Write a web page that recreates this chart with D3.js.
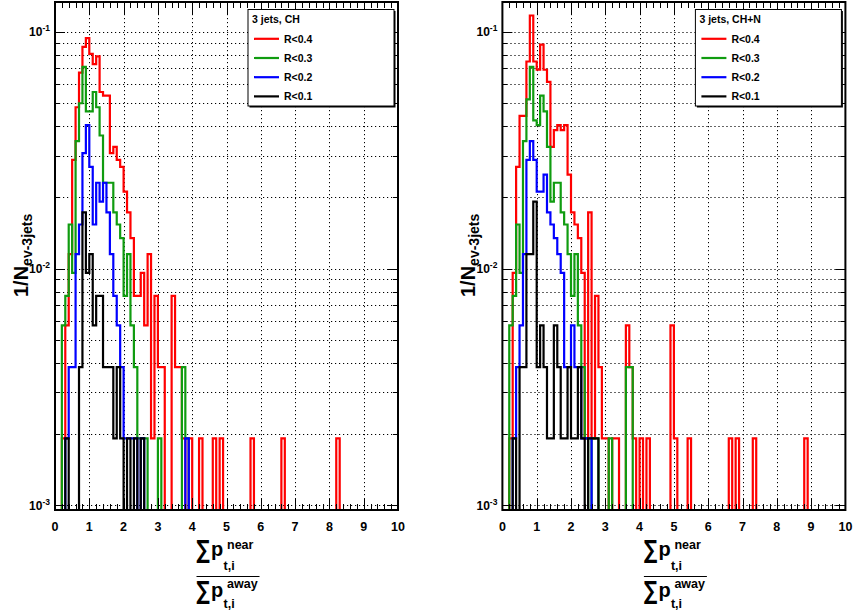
<!DOCTYPE html>
<html>
<head>
<meta charset="UTF-8">
<title>near/away ratio, 3 jets</title>
<script src="https://d3js.org/d3.v7.min.js"></script>
<style>
  body { margin: 0; background: #fff; }
  text { font-family: "Liberation Sans", Arial, sans-serif; font-weight: bold; fill: #000; }
</style>
</head>
<body>
<svg width="853" height="613"></svg>
<script>
// histogram binning (100 bins of 0.1 from 0 to 10)
var binWidth = 0.1;
var nBins = 100;
// normalisation: y = entries / N_ev-3jets
var nEvents = 521;

var seriesNames = ["R<0.4", "R<0.3", "R<0.2", "R<0.1"];
var seriesColors = ["#ff0000", "#109c10", "#0000ff", "#000000"];
var panelTitles = ["3 jets, CH", "3 jets, CH+N"];

// entries per bin (index = bin number)
var chRed = [0,0,1,3,6,15,25,35,45,49,
  42,38,41,29,28,28,16,17,15,14,
  11,9,7,4,4,5,3,6,1,4,
  2,2,0,0,4,2,2,1,0,1,
  0,0,1,0,0,0,1,0,1,0,
  0,0,0,0,0,0,0,1,0,0,
  0,0,0,0,0,0,1,0,0,0,
  0,0,0,0,0,0,0,0,0,0,
  0,0,1];
var chGreen = [0,0,3,4,8,5,18,26,37,24,
  24,29,25,19,12,12,12,9,8,7,
  4,6,3,2,1,1,1,0,0,0,
  1,0,0,0,0,0,0,2,1];
var chBlue = [0,0,0,1,2,2,6,8,16,21,
  14,8,12,10,12,9,6,4,3,2,
  1,1,1,1,0,1,0,0,0,0,
  0,0,0,0,0,0,0,0,1];
var chBlack = [0,0,0,1,0,0,0,2,9,5,
  6,3,4,4,2,2,2,1,2,1,
  0,1,0,1,0,1];

var chnRed = [0,0,1,5,14,23,23,39,61,39,
  36,46,36,32,17,20,21,20,21,13,
  9,8,7,5,1,9,1,4,2,1,
  1,0,1,1,0,0,3,2,1,0,
  1,0,1,0,0,0,0,0,0,3,
  1,0,0,0,1,0,0,0,0,0,
  0,0,0,0,0,0,1,0,1,0,
  0,0,0,1,0,0,0,0,0,0,
  0,0,0,0,0,0,0,0,1];
var chnGreen = [0,0,3,4,8,5,18,27,37,22,
  21,28,24,17,10,12,12,9,8,6,
  4,6,3,2,1,0,1,1,0,0,
  0,1,0,0,0,0,2,2];
var chnBlue = [0,0,0,1,2,3,6,15,18,15,
  11,11,13,9,8,7,6,5,2,2,
  3,2,2,1,1,1];
var chnBlack = [0,0,0,1,0,2,2,6,6,10,
  2,3,2,1,1,3,2,1,1,2,
  1,1,2,1,0,1,1,1];

var xTicks = [0,1,2,3,4,5,6,7,8,9,10];
var yDecades = [-3, -2, -1];

var svg = d3.select("svg");
var yTop = 2, yBottom = 510;
var yMin = 9.57e-4, yMax = 0.1335;

function drawPanel(idx, frameLeft, series) {
  var frameRight = frameLeft + 343;
  var x = d3.scaleLinear().domain([0, 10]).range([frameLeft, frameRight]);
  var y = d3.scaleLog().domain([yMin, yMax]).range([yBottom, yTop]);
  var g = svg.append("g");

  // log tick values 1..9 x 10^k
  var yTickVals = [];
  yDecades.forEach(function (k) {
    for (var m = 1; m <= 9; m++) {
      var v = m * Math.pow(10, k);
      if (v >= yMin && v <= yMax) yTickVals.push(v);
    }
  });

  // grid
  g.selectAll(".vgrid").data(xTicks.slice(1, -1)).enter().append("line")
    .attr("x1", d => Math.round(x(d)) + 0.5).attr("x2", d => Math.round(x(d)) + 0.5)
    .attr("y1", yTop).attr("y2", yBottom)
    .attr("stroke", "#000").attr("stroke-width", 1)
    .attr("stroke-dasharray", "1.2,2.8");
  g.selectAll(".hgrid").data(yTickVals).enter().append("line")
    .attr("x1", frameLeft).attr("x2", frameRight)
    .attr("y1", d => Math.round(y(d)) + 0.5).attr("y2", d => Math.round(y(d)) + 0.5)
    .attr("stroke", "#000").attr("stroke-width", 1)
    .attr("stroke-dasharray", "1.2,2.8");

  // histograms
  var clipId = "clip" + idx;
  svg.append("clipPath").attr("id", clipId).append("rect")
    .attr("x", frameLeft).attr("y", yTop)
    .attr("width", frameRight - frameLeft).attr("height", yBottom - yTop);

  var line = d3.line()
    .x(d => x(d.x))
    .y(d => d.v > 0 ? y(d.v / nEvents) : yBottom + 3)
    .curve(d3.curveStepAfter);

  series.forEach(function (counts, s) {
    var pts = [];
    for (var i = 0; i < nBins; i++) {
      pts.push({ x: i * binWidth, v: counts[i] || 0 });
    }
    pts.push({ x: nBins * binWidth, v: 0 });
    g.append("path")
      .attr("clip-path", "url(#" + clipId + ")")
      .attr("d", line(pts))
      .attr("fill", "none")
      .attr("stroke", seriesColors[s])
      .attr("stroke-width", 2.2);
  });

  // ticks
  var xMinor = d3.range(0, 10.001, 0.2);
  var tick = g.append("g").attr("stroke", "#000").attr("stroke-width", 1);
  xMinor.forEach(function (v) {
    var major = Math.abs(v - Math.round(v)) < 1e-6;
    var len = major ? 12 : 6;
    var xx = Math.round(x(v)) + 0.5;
    tick.append("line").attr("x1", xx).attr("x2", xx).attr("y1", yBottom).attr("y2", yBottom - len);
    tick.append("line").attr("x1", xx).attr("x2", xx).attr("y1", yTop).attr("y2", yTop + len);
  });
  yTickVals.forEach(function (v) {
    var major = Math.abs(Math.log10(v) - Math.round(Math.log10(v))) < 1e-6;
    var len = major ? 10 : 5;
    var yy = Math.round(y(v)) + 0.5;
    tick.append("line").attr("x1", frameLeft).attr("x2", frameLeft + len).attr("y1", yy).attr("y2", yy);
    tick.append("line").attr("x1", frameRight).attr("x2", frameRight - len).attr("y1", yy).attr("y2", yy);
  });

  // frame
  g.append("rect").attr("x", frameLeft).attr("y", yTop)
    .attr("width", frameRight - frameLeft).attr("height", yBottom - yTop)
    .attr("fill", "none").attr("stroke", "#000").attr("stroke-width", 2);

  // x tick labels
  g.selectAll(".xl").data(xTicks).enter().append("text")
    .attr("x", d => x(d)).attr("y", 531)
    .attr("text-anchor", "middle").attr("font-size", 12.5)
    .text(d => d);

  // y tick labels
  yDecades.forEach(function (k) {
    var t = g.append("text")
      .attr("x", frameLeft - 5).attr("y", y(Math.pow(10, k)) + 4.5)
      .attr("text-anchor", "end").attr("font-size", 12);
    t.append("tspan").text("10");
    t.append("tspan").attr("dy", -5).attr("font-size", 8.5).text(k);
  });

  // y axis title
  var yt = g.append("text")
    .attr("transform", "translate(" + (frameLeft - 27) + ",297) rotate(-90)")
    .attr("font-size", 20);
  yt.append("tspan").text("1/N");
  yt.append("tspan").attr("dy", 4).attr("font-size", 14).text("ev-3jets");

  // x axis title: sum p_t near / sum p_t away
  var cx = (frameLeft + frameRight) / 2;
  var sumFont = "'DejaVu Sans', sans-serif";
  function ratioPart(baseY, sup, supDy, subDy) {
    g.append("text")
      .attr("transform", "translate(" + (cx - 30) + "," + (baseY + 1) + ") scale(0.75,1)")
      .attr("font-size", 25).attr("font-weight", "normal")
      .style("font-family", sumFont).text("\u2211");
    g.append("text").attr("x", cx - 15.5).attr("y", baseY - 1)
      .attr("font-size", 20).text("p");
    g.append("text").attr("x", cx + 0.5).attr("y", baseY + supDy)
      .attr("font-size", 12.5).text(sup);
    g.append("text").attr("x", cx - 3).attr("y", baseY + subDy)
      .attr("font-size", 12.5).text("t,i");
  }
  ratioPart(557, "near", -8, 13);
  g.append("line").attr("x1", cx - 30).attr("x2", cx + 33)
    .attr("y1", 576.5).attr("y2", 576.5)
    .attr("stroke", "#000").attr("stroke-width", 1.2);
  ratioPart(598, "away", -10, 9.5);

  // legend
  var lx = frameLeft + 193, ly = 9.5, lw = 146, lh = 96.5;
  var leg = g.append("g");
  leg.append("rect").attr("x", lx + 1.5).attr("y", ly + 1.5).attr("width", lw).attr("height", lh)
    .attr("fill", "#000");
  leg.append("rect").attr("x", lx).attr("y", ly).attr("width", lw).attr("height", lh)
    .attr("fill", "#fff").attr("stroke", "#000").attr("stroke-width", 1);
  leg.append("text").attr("x", lx + 4).attr("y", ly + 13)
    .attr("font-size", 10.5).text(panelTitles[idx]);
  seriesNames.forEach(function (name, s) {
    var ry = ly + 29.3 + s * 19.2;
    leg.append("line").attr("x1", lx + 6).attr("x2", lx + 31)
      .attr("y1", ry).attr("y2", ry)
      .attr("stroke", seriesColors[s]).attr("stroke-width", 2.2);
    leg.append("text").attr("x", lx + 36).attr("y", ry + 4)
      .attr("font-size", 10.5).text(name);
  });
}

drawPanel(0, 55, [chRed, chGreen, chBlue, chBlack]);
drawPanel(1, 502.4, [chnRed, chnGreen, chnBlue, chnBlack]);
</script>
</body>
</html>
